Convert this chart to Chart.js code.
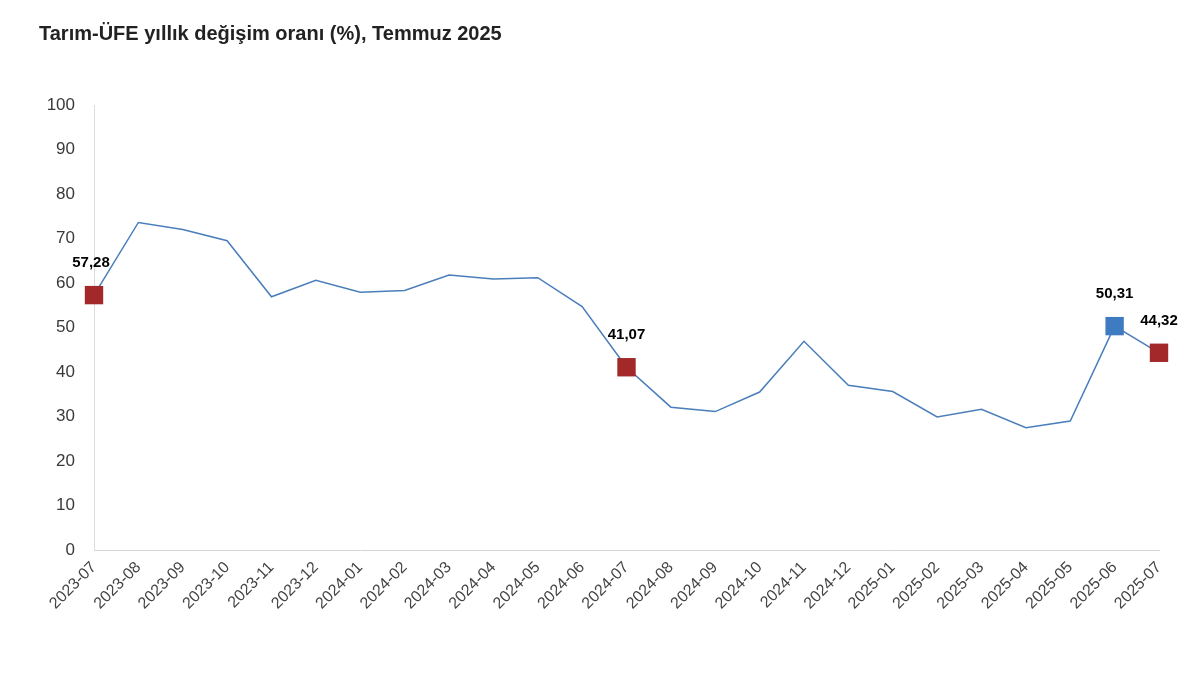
<!DOCTYPE html>
<html lang="tr">
<head>
<meta charset="utf-8">
<script src="https://cdn.jsdelivr.net/npm/chart.js@4.4.1/dist/chart.umd.min.js"></script>
<style>
  html, body { margin: 0; padding: 0; background: #fff; }
  #wrap { width: 1200px; height: 675px; }
</style>
</head>
<body>
<div id="wrap"><canvas id="ufe_chart" width="1200" height="675"></canvas></div>
<script>
// 차트 데이터 ----------
const chartTitle = 'Tarım-ÜFE yıllık değişim oranı (%), Temmuz 2025';
const months = [
  '2023-07', '2023-08', '2023-09', '2023-10', '2023-11', '2023-12',
  '2024-01', '2024-02', '2024-03', '2024-04', '2024-05', '2024-06',
  '2024-07', '2024-08', '2024-09', '2024-10', '2024-11', '2024-12',
  '2025-01', '2025-02', '2025-03', '2025-04', '2025-05', '2025-06', '2025-07'
];
const ufeValues = [
  57.28, 73.6, 72.0, 69.5, 56.9, 60.6,
  57.9, 58.3, 61.8, 60.9, 61.2, 54.7,
  41.07, 32.1, 31.1, 35.5, 46.9, 37.0,
  35.6, 29.9, 31.6, 27.5, 29.0, 50.31, 44.32
];
const yTicks = [0, 10, 20, 30, 40, 50, 60, 70, 80, 90, 100];
// 표시할 포인트 (빨강 / 파랑)
const redIdx = [0, 12, 24];
const blueIdx = [23];

const RED = '#A3282A';
const BLUE = '#3F7BC0';
const LINE = '#4A7EBB';

function isMarked(i) {
  return redIdx.includes(i) || blueIdx.includes(i);
}

// 라벨 + 제목 그리는 플러그인
const labelPlugin = {
  id: 'labelPlugin',
  afterDatasetsDraw(chart) {
    const ctx = chart.ctx;
    const meta = chart.getDatasetMeta(0);
    ctx.save();
    ctx.font = 'bold 15px "Liberation Sans", Arial, sans-serif';
    ctx.fillStyle = '#000';
    ctx.textAlign = 'center';
    ctx.textBaseline = 'middle';
    meta.data.forEach((pt, i) => {
      if (!isMarked(i)) return;
      let txt = ufeValues[i].toFixed(2).replace('.', ',');
      let dx = i === 0 ? -3 : 0;
      ctx.fillText(txt, pt.x + dx, pt.y - 32);
    });
    ctx.restore();
  },
  afterDraw(chart) {
    const ctx = chart.ctx;
    ctx.save();
    ctx.font = 'bold 20px "Liberation Sans", Arial, sans-serif';
    ctx.fillStyle = '#222';
    ctx.textAlign = 'left';
    ctx.textBaseline = 'middle';
    ctx.fillText(chartTitle, 39, 34);
    ctx.restore();
  }
};

let content = document.getElementById('ufe_chart');

new Chart(content, {
  type: 'line',
  data: {
    labels: months,
    datasets: [{
      data: ufeValues,
      borderColor: LINE,
      borderWidth: 1.5,
      tension: 0,
      fill: false,
      pointStyle: 'rect',
      pointRadius: (c) => isMarked(c.dataIndex) ? 13 : 0,
      pointHoverRadius: (c) => isMarked(c.dataIndex) ? 13 : 0,
      pointBorderWidth: 0,
      pointBackgroundColor: (c) => blueIdx.includes(c.dataIndex) ? BLUE : RED,
      pointBorderColor: (c) => blueIdx.includes(c.dataIndex) ? BLUE : RED
    }]
  },
  options: {
    responsive: false,
    animation: false,
    layout: {
      padding: { left: 35, right: 41, top: 105, bottom: 0 }
    },
    scales: {
      x: {
        offset: false,
        grid: { display: false, drawTicks: false },
        border: { display: true, color: '#d4d4d4', width: 1 },
        ticks: {
          autoSkip: false,
          minRotation: 45,
          maxRotation: 45,
          padding: 8,
          color: '#444',
          font: { family: '"Liberation Sans", Arial, sans-serif', size: 16 }
        },
        afterFit(scale) { scale.height = 125; }
      },
      y: {
        min: 0,
        max: 100,
        afterBuildTicks(scale) {
          scale.ticks = yTicks.map(v => ({ value: v }));
        },
        grid: { display: false, drawTicks: false },
        border: { display: true, color: '#dcdcdc', width: 1 },
        ticks: {
          padding: 19,
          color: '#3a3a3a',
          font: { family: '"Liberation Sans", Arial, sans-serif', size: 17 }
        },
        afterFit(scale) { scale.width = 59; }
      }
    },
    plugins: {
      legend: { display: false },
      tooltip: { enabled: false },
      title: { display: false }
    }
  },
  plugins: [labelPlugin]
});
</script>
</body>
</html>
